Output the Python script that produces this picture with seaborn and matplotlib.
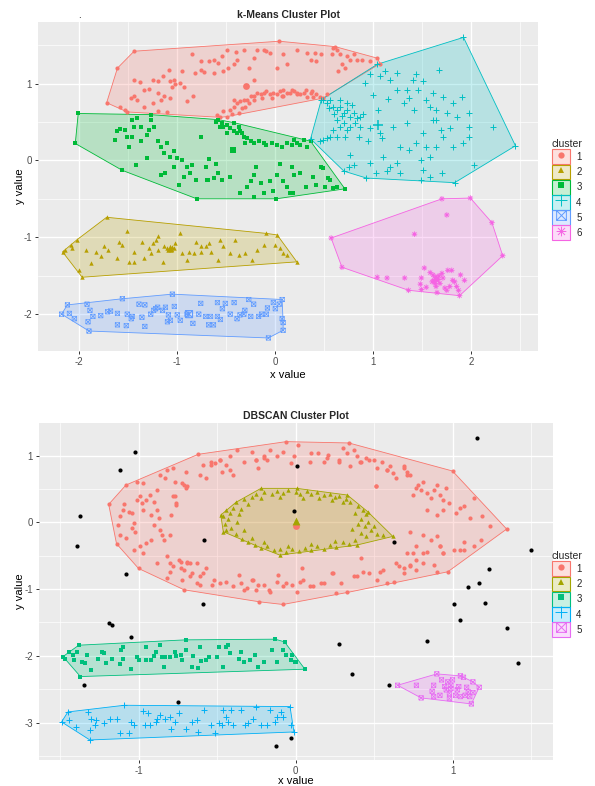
import numpy as np
import pandas as pd
import matplotlib
matplotlib.use("Agg")
import matplotlib.pyplot as plt
import seaborn as sns
from matplotlib.path import Path
from matplotlib.patches import Polygon, Patch
from matplotlib.lines import Line2D
from matplotlib.ticker import MultipleLocator

# ---------------- k-means panel data ----------------
KM_TITLE = "k-Means Cluster Plot"
KM_LABELS = ["1", "2", "3", "4", "5", "6"]
KM_COLORS = ["#F8766D", "#B79F00", "#00BA38", "#00BFC4", "#619CFF", "#F564E3"]
KM_XTICKS = [-2, -1, 0, 1, 2]
KM_YTICKS = [-2, -1, 0, 1]

KM1 = [(-1.72,0.75),(-1.61,1.20),(-1.44,1.42),(0.04,1.55),(0.61,1.48),(1.04,1.33),(1.07,1.26),
       (-0.56,0.56),(-1.51,0.63),
       (-1.44,1.04),(-1.38,1.02),(-1.25,1.05),(-1.20,1.03),(-1.15,1.10),(-1.08,1.18),(-1.07,1.03),
       (-1.03,1.05),(-0.95,1.16),(-0.97,1.01),(-0.85,1.39),(-0.76,1.17),(-0.73,1.15),(-0.68,1.29),
       (-0.63,1.31),(-0.58,1.27),(-0.54,1.36),(-0.49,1.44),(-0.48,1.20),(-0.39,1.31),(-0.40,1.41),
       (-0.32,1.44),(-0.27,1.20),(-0.22,1.33),(-0.19,1.44),(-0.12,1.44),(-0.09,1.42),(-0.05,1.40),
       (-0.22,1.05),(-0.42,1.25),(-0.63,1.14),(-1.34,0.92),(-1.41,0.79),(-1.29,0.93),(-1.20,0.88),
       (-1.25,0.75),(-1.14,0.84),(-1.07,0.81),(-1.05,0.96),(-1.02,0.99),(-1.17,0.79),(-1.475,0.81),
       (-1.58,0.70),(-1.53,0.66),(-1.44,0.84),(-1.34,0.70),(-1.20,0.64),(-1.10,0.63),(-0.90,0.77),
       (-0.84,0.84),(-0.93,0.96),(-0.53,1.16),(-0.82,1.14),(-0.76,1.29),(0.08,1.38),(0.12,1.25),
       (0.02,1.20),(0.08,0.84),(0.15,0.88),
       (0.32,1.40),(0.36,1.31),(0.41,1.40),(0.42,1.29),(0.47,1.38),(0.58,1.38),(0.59,1.46),(0.63,1.44),
       (0.66,1.38),(0.68,1.25),(0.73,1.36),(0.76,1.31),(0.80,1.38),(0.83,1.31),(0.88,1.31),(0.97,1.29),
       (0.64,1.16),(0.71,1.20),(0.22,1.44),
       (-0.59,0.595),(-0.53,0.64),(-0.46,0.66),(-0.42,0.70),(-0.39,0.75),(-0.36,0.77),(-0.32,0.79),
       (-0.29,0.79),(-0.25,0.84),(-0.22,0.84),(-0.19,0.88),(-0.15,0.86),(-0.12,0.88),(-0.09,0.90),
       (-0.05,0.86),(-0.02,0.88),(0.02,0.86),(0.05,0.90),(0.08,0.92),(0.12,0.88),(0.17,0.92),(0.22,0.86),
       (-0.31,0.70),(-0.37,0.62),(-0.44,0.60),(-0.49,0.57),(-0.22,0.79),(-0.14,0.81),(-0.03,0.81),
       (0.07,0.84),(-0.42,0.79),(-0.27,0.75),(-0.34,0.68),
       (0.19,0.90),(0.22,0.88),(0.25,0.86),(0.29,0.88),(0.32,0.83),(0.36,0.88),(0.39,0.83),(0.42,0.86),
       (0.46,0.83),(0.49,0.81),(0.31,0.92),(0.37,0.90),(0.53,0.86)]

KM2 = [(-2.17,-1.19),(-2.14,-1.16),(-2.08,-1.10),(-2.07,-1.14),(-2.02,-1.03),(-2.00,-1.43),(-1.97,-1.52),
       (-1.93,-1.16),(-1.88,-1.34),(-1.83,-1.19),(-1.78,-1.25),(-1.75,-1.12),(-1.72,-0.74),(-1.71,-1.16),
       (-1.61,-1.27),(-1.59,-1.06),(-1.56,-1.10),(-1.51,-0.92),(-1.49,-1.32),(-1.44,-1.19),(-1.36,-1.06),
       (-1.34,-1.27),(-1.29,-1.14),(-1.27,-1.21),(-1.25,-1.08),(-1.22,-1.03),(-1.20,-0.99),(-1.15,-1.32),
       (-1.14,-1.12),(-1.10,-1.14),(-1.09,-1.16),(-1.06,-1.16),(-1.03,-1.14),(-1.02,-1.08),(-0.97,-0.95),
       (-0.95,-1.21),(-0.90,-1.30),(-0.88,-1.19),(-0.83,-1.21),(-0.81,-1.06),(-0.76,-1.19),(-0.71,-1.12),
       (-0.68,-1.08),(-0.66,-1.19),(-0.58,-1.30),(-0.56,-1.03),(-0.53,-1.12),(-0.46,-1.21),(-0.41,-1.03),
       (-0.37,-1.23),(-0.31,-1.21),(-0.24,-1.30),(-0.19,-1.16),(-0.12,-1.10),(-0.09,-0.95),(0.00,-1.10),
       (0.05,-1.14),(0.08,-1.21),(0.12,-1.23),(0.02,-0.97),(0.22,-1.32),(-0.76,-1.12),(-1.20,-1.16),
       (-1.44,-1.32),(-1.07,-1.15),(-1.05,-1.13)]

KM3 = [(-2.01,0.61),(-2.04,0.22),(-1.56,-0.13),(-0.80,-0.50),(0.01,-0.50),(0.71,-0.37),(0.36,0.25),
       (-1.63,0.27),(-1.61,0.38),(-1.58,0.41),(-1.53,0.40),(-1.51,0.31),(-1.46,0.53),(-1.44,0.44),
       (-1.41,0.55),(-1.37,0.44),(-1.46,0.31),(-1.49,0.18),(-1.42,-0.06),(-1.37,0.25),(-1.31,0.33),
       (-1.29,0.40),(-1.27,0.53),(-1.24,0.44),(-1.20,0.25),(-1.17,0.18),(-1.10,0.23),(-1.07,0.05),
       (-1.03,0.12),(-1.00,0.03),(-0.95,0.01),(-0.90,-0.08),(-0.85,-0.06),(-1.31,0.03),(-1.17,-0.19),
       (-1.12,-0.17),(-0.98,-0.32),(-0.93,-0.21),(-0.87,-0.17),(-0.81,-0.25),(-0.76,0.31),(-0.68,0.02),
       (-0.70,-0.25),(-0.63,-0.23),(-0.58,-0.17),(-0.54,-0.25),(-0.46,-0.21),(-0.36,-0.43),(-0.29,-0.34),
       (-0.25,-0.27),(-0.22,-0.19),(-0.15,-0.30),(-0.12,-0.43),(-0.05,-0.27),(0.02,-0.19),(0.08,-0.27),
       (0.12,-0.34),(0.19,-0.19),(0.15,-0.43),(-0.71,-0.08),(-1.03,-0.08),(-1.14,0.10),
       (-0.36,-0.42),(-0.22,-0.48),(-0.02,-0.40),(0.18,-0.42),(-1.27,0.595),
       (-0.58,0.53),(-0.54,0.49),(-0.53,0.44),(-0.49,0.46),(-0.46,0.42),(-0.42,0.38),(-0.39,0.36),
       (-0.36,0.38),(-0.32,0.31),(-0.29,0.29),(-0.25,0.25),(-0.22,0.23),(-0.17,0.25),(-0.12,0.23),
       (-0.09,0.20),(-0.03,0.23),(0.02,0.20),(0.07,0.18),(0.12,0.23),(0.17,0.20),(0.22,0.23),
       (-0.42,0.49),(-0.37,0.44),(-0.34,0.36),(-0.56,0.44),(-0.31,0.23),(-0.49,0.36),(-0.60,0.50),
       (0.19,0.27),(0.25,0.20),(0.29,0.27),(0.32,0.18),(0.17,-0.08),(0.25,-0.17),(0.31,-0.34),
       (0.39,-0.21),(0.42,-0.32),(0.47,-0.08),(0.56,-0.25),(0.59,-0.36),(0.51,-0.34),(0.49,-0.10),
       (0.54,-0.23),(0.63,-0.35),(-0.69,-0.25),(-0.60,-0.05),(-0.20,-0.08),(0.05,-0.05)]

KM4 = [(1.92,1.60),(2.45,0.19),(1.83,-0.29),(0.93,-0.23),(0.70,-0.14),(0.36,0.28),(0.47,0.79),(1.04,1.25),
       (0.49,0.79),(0.53,0.75),(0.56,0.79),(0.59,0.70),(0.63,0.66),(0.66,0.70),(0.70,0.62),(0.73,0.66),
       (0.76,0.57),(0.80,0.62),(0.83,0.55),(0.86,0.57),(0.63,0.53),(0.66,0.44),(0.70,0.49),(0.73,0.40),
       (0.59,0.40),(0.56,0.31),(0.49,0.27),(0.46,0.25),(0.53,0.29),(0.63,0.31),(0.71,0.31),(0.76,0.44),
       (0.81,0.49),(0.86,0.44),(0.66,0.79),(0.73,0.75),(0.97,0.42),(1.07,0.36),(1.09,0.29),
       (0.92,1.01),(0.97,1.12),(1.07,1.10),(1.12,1.16),(1.17,1.05),(1.24,0.92),(1.24,1.14),(1.34,0.92),
       (1.36,0.81),(1.41,1.05),(1.44,1.12),(1.46,0.92),(1.51,1.03),(1.54,0.79),(1.58,0.70),(1.61,0.88),
       (1.64,0.66),(1.67,1.18),(1.71,0.83),(1.75,0.62),(1.81,0.75),(1.85,0.57),(1.90,0.83),(1.98,0.62),
       (1.98,0.44),(1.98,0.31),(1.92,0.22),(1.81,0.18),(1.78,0.42),(1.69,0.40),(1.61,0.53),(1.51,0.36),
       (1.44,0.22),(1.54,0.18),(1.58,0.05),(1.64,0.18),(1.71,0.31),(2.03,-0.06),(2.22,0.44),(1.27,0.18),
       (1.36,0.14),(1.34,0.49),(1.20,0.44),(1.10,0.05),(1.17,-0.08),(1.24,-0.04),(1.27,-0.17),(1.14,-0.14),
       (1.03,-0.17),(0.80,-0.06),(0.75,-0.08),(0.76,0.07),(0.97,-0.04),(1.49,0.01),(1.51,-0.12),
       (1.49,-0.25),(1.58,-0.21),(1.70,-0.17),(1.31,0.75),(1.42,0.66),(1.64,0.53),(0.60,0.60),(0.68,0.58),
       (0.55,0.68),(0.78,0.72),(0.90,0.60),(0.85,0.30),(0.95,0.25),(1.00,0.85),(1.15,0.80),(1.05,0.65)]

KM5 = [(-2.18,-2.00),(-2.12,-1.88),(-2.10,-1.99),(-2.05,-2.06),(-1.92,-1.87),(-1.91,-2.10),(-1.90,-2.22),
       (-1.89,-1.95),(-1.86,-2.03),(-1.78,-2.02),(-1.71,-1.97),(-1.68,-1.96),(-1.61,-1.99),(-1.61,-2.14),
       (-1.56,-1.80),(-1.52,-2.15),(-1.51,-2.00),(-1.47,-2.06),(-1.46,-2.03),(-1.39,-1.87),(-1.36,-2.04),
       (-1.33,-1.88),(-1.33,-2.16),(-1.27,-2.00),(-1.24,-1.95),(-1.22,-1.93),(-1.20,-1.91),(-1.15,-1.95),
       (-1.12,-1.91),(-1.10,-2.10),(-1.09,-2.01),(-1.07,-2.08),(-1.05,-1.74),(-1.03,-1.90),(-1.00,-2.01),
       (-0.97,-2.08),(-0.90,-2.00),(-0.84,-2.12),(-0.78,-2.00),(-0.76,-1.86),(-0.71,-2.03),(-0.68,-2.14),
       (-0.66,-2.03),(-0.63,-2.14),(-0.59,-2.03),(-0.59,-1.85),(-0.56,-2.07),(-0.54,-1.93),(-0.51,-1.86),
       (-0.46,-2.00),(-0.42,-1.85),(-0.39,-2.06),(-0.36,-2.01),(-0.32,-2.00),(-0.31,-1.95),(-0.27,-1.81),
       (-0.25,-2.03),(-0.22,-1.87),(-0.17,-2.03),(-0.14,-2.00),(-0.09,-2.00),(-0.08,-1.92),(-0.07,-2.31),
       (-0.02,-1.85),(0.00,-1.93),(0.04,-1.87),(0.07,-1.81),(0.07,-2.06),(0.08,-2.11),(0.08,-2.21)]

KM6 = [(1.70,-0.50),(1.99,-0.49),(2.21,-0.81),(2.32,-1.24),(1.75,-0.71),(1.42,-0.96),(0.57,-1.01),
       (0.68,-1.39),(1.04,-1.52),(1.14,-1.53),(1.32,-1.53),(1.36,-1.69),(1.49,-1.53),(1.48,-1.61),
       (1.49,-1.68),(1.52,-1.40),(1.54,-1.65),(1.58,-1.46),(1.61,-1.49),(1.62,-1.56),(1.64,-1.52),
       (1.66,-1.55),(1.64,-1.64),(1.65,-1.72),(1.68,-1.60),(1.71,-1.53),(1.73,-1.66),(1.76,-1.43),
       (1.80,-1.43),(1.78,-1.64),(1.81,-1.56),(1.83,-1.58),(1.85,-1.64),(1.87,-1.69),(1.88,-1.76),
       (1.89,-1.49),(1.93,-1.56),(1.75,-1.69),(1.70,-1.47),(1.60,-1.58),(1.67,-1.50),(1.63,-1.60)]

KM_CENTERS = [(-0.30,0.97),(-1.07,-1.14),(-0.43,0.13),(1.05,0.46),(-0.88,-2.00),(1.64,-1.55)]

# ---------------- DBSCAN panel data ----------------
DB_TITLE = "DBSCAN Cluster Plot"
DB_LABELS = ["1", "2", "3", "4", "5"]
DB_COLORS = ["#F8766D", "#A3A500", "#00BF7D", "#00B0F6", "#E76BF3"]
DB_XTICKS = [-1, 0, 1]
DB_YTICKS = [-3, -2, -1, 0, 1]

DB1 = [(-1.19,0.27),(-1.01,0.61),(-0.62,1.02),(-0.06,1.21),(0.34,1.19),(1.00,0.77),(1.345,-0.10),
       (0.97,-0.74),(-0.08,-1.23),(-0.71,-1.01),(-1.00,-0.69),(-1.14,-0.32),
       (-1.13,-0.04),(-1.12,-0.19),(-1.10,0.19),(-1.09,0.28),(-1.06,0.16),(-1.04,0.14),(-1.03,-0.01),
       (-1.02,-0.14),(-1.01,0.34),(-0.99,0.39),(-0.98,0.29),(-0.97,0.19),(-0.95,0.34),(-0.93,0.41),
       (-0.92,0.11),(-0.90,-0.04),(-0.90,0.31),(-0.88,0.19),(-0.87,0.06),(-0.86,-0.11),(-0.85,-0.19),
       (-0.84,-0.26),(-0.92,-0.26),(-0.95,-0.31),(-0.99,-0.36),(-0.97,-0.46),(-1.03,-0.41),(-1.08,-0.24),
       (-1.04,-0.09),(-1.12,0.09),
       (-1.08,0.56),(-0.97,0.59),(-0.88,0.49),(-0.86,0.71),(-0.83,0.66),(-0.82,0.79),(-0.78,0.81),
       (-0.77,0.61),(-0.72,0.59),(-0.70,0.76),(-0.69,0.54),(-0.78,0.39),(-0.79,0.11),(-0.76,0.26),
       (-0.61,0.71),(-0.59,0.86),(-0.57,0.66),(-0.54,0.91),(-0.51,0.89),(-0.48,0.94),(-0.47,0.76),
       (-0.44,0.86),(-0.42,0.99),(-0.40,0.71),(-0.37,1.09),(-0.33,0.91),(-0.28,1.06),(-0.25,0.94),
       (-0.24,0.81),(-0.20,0.99),(-0.18,0.94),(-0.16,1.09),(-0.12,0.99),(-0.08,1.06),(-0.03,0.89),
       (-0.01,0.99),
       (-0.82,-0.51),(-0.80,-0.61),(-0.78,-0.66),(-0.74,-0.56),(-0.71,-0.72),(-0.69,-0.59),(-0.66,-0.76),
       (-0.63,-0.61),(-0.61,-0.81),(-0.57,-0.69),(-0.52,-0.86),(-0.48,-0.91),(-0.44,-0.89),(-0.40,-0.96),
       (-0.35,-0.91),(-0.31,-0.99),(-0.27,-0.86),(-0.25,-1.01),(-0.20,-0.94),(-0.16,-1.04),(-0.12,-0.89),
       (-0.08,-0.96),(-0.02,-0.94),(0.01,-1.04),(-0.72,-0.86),(-0.61,-0.94),
       (-0.88,-0.61),(-0.82,-0.84),(-0.80,-0.74),(-0.73,-0.69),(-0.69,-0.61),(-0.67,-0.81),(-0.63,-0.91),
       (-0.59,-0.76),(-0.53,-0.94),(-0.36,-0.79),(-0.33,-1.01),(-0.28,-0.86),(-0.24,-0.94),(-0.23,-1.19),
       (-0.17,-1.01),(-0.11,-0.79),(-0.06,-0.91),(0.04,-0.69),(0.05,-0.86),(0.11,-0.96),(0.16,-0.91),
       (0.23,-0.76),(0.26,-1.06),(0.29,-0.91),(0.33,-1.05),(0.37,-0.81),(0.42,-0.54),(0.43,-0.74),
       (0.52,-0.86),(0.54,-0.74),(0.58,-0.91),(0.63,-0.89),(0.66,-0.66),(0.69,-0.76),(0.73,-0.64),
       (0.77,-0.71),(0.81,-0.61),(0.88,-0.64),(0.90,-0.74),(0.94,-0.46),(0.75,-0.46),(0.84,-0.44),
       (0.92,-0.36),(1.07,-0.41),(1.14,-0.36),
       (0.018,1.16),(0.10,1.04),(0.145,1.04),(0.18,0.91),(0.21,1.01),(0.28,0.94),(0.30,1.11),(0.33,1.04),
       (0.37,1.09),(0.39,0.99),(0.42,0.91),(0.45,0.96),(0.50,0.94),(0.51,0.55),(0.55,0.91),(0.58,0.79),
       (0.60,0.84),(0.62,0.74),(0.64,0.66),(0.69,0.84),(0.71,0.76),(0.73,0.71),(0.78,0.56),(0.80,0.49),
       (0.81,0.61),(0.84,0.44),(0.86,0.36),(0.88,0.49),(0.90,0.56),(0.92,0.41),(0.94,0.34),(0.96,0.51),
       (0.98,0.29),(1.02,0.14),(1.05,0.21),(1.07,0.24),(1.11,0.06),(1.14,0.36),(1.19,0.09),(0.84,0.19),
       (0.90,0.11),(0.94,0.19),
       (0.73,-0.14),(0.81,-0.19),(0.86,-0.26),(0.92,-0.36),(0.94,-0.46),(1.01,-0.41),(1.05,-0.41),
       (1.07,-0.29),(1.18,-0.26),(1.24,-0.06),(0.90,-0.21),(0.77,-0.56),(0.64,-0.61),(0.69,-0.69),
       (0.73,-0.66),(0.56,-0.71),(0.47,-0.76),(0.39,-0.81),(0.24,-0.76),(0.18,-0.91),(0.09,-0.96),
       (0.03,-0.89),(0.77,-0.36),(0.81,-0.46),(0.71,-0.46),
       (-0.54,0.86),(-0.48,0.94),(-0.42,0.79),(-0.25,0.94),(-0.20,0.96),(0.09,0.91),(0.20,0.96),
       (0.28,0.91),(0.35,0.84),(0.41,0.91),(0.47,0.94),(0.52,0.81),(0.58,0.79),(0.69,0.81),(0.71,0.71),
       (0.51,0.54),(0.75,0.41),(0.77,0.51),(-0.80,-0.19),(-0.77,0.39),(-0.76,0.29),(-0.71,0.56),
       (-0.70,0.51),(-0.73,-0.59),(-0.67,-0.61)]

DB2 = [(-0.476,0.11),(-0.22,0.51),(0.008,0.51),(0.33,0.41),(0.46,0.16),(0.62,-0.21),(0.39,-0.34),
       (-0.10,-0.49),(-0.46,-0.14),
       (-0.38,0.30),(-0.33,0.35),(-0.28,0.38),(-0.25,0.42),(-0.20,0.45),(-0.15,0.43),(-0.12,0.47),
       (-0.08,0.44),(-0.05,0.48),(0.00,0.46),(0.03,0.42),(0.07,0.47),(0.10,0.43),(0.14,0.45),(0.18,0.41),
       (0.22,0.43),(0.25,0.38),(0.28,0.40),(0.32,0.35),(0.35,0.31),(0.30,0.30),(-0.22,0.36),(-0.10,0.38),
       (0.05,0.37),(0.15,0.36),(0.23,0.33),(-0.30,0.28),
       (-0.44,0.18),(-0.46,0.10),(-0.43,0.05),(-0.45,-0.02),(-0.41,-0.08),(-0.44,-0.12),(-0.38,-0.18),
       (-0.40,0.22),(-0.36,0.12),(-0.37,0.00),(-0.33,-0.12),(-0.35,0.20),(-0.42,0.14),
       (-0.34,-0.25),(-0.30,-0.30),(-0.26,-0.34),(-0.22,-0.38),(-0.18,-0.36),(-0.14,-0.42),(-0.10,-0.40),
       (-0.06,-0.44),(-0.02,-0.40),(0.02,-0.43),(0.06,-0.38),(0.10,-0.42),(0.14,-0.36),(0.18,-0.40),
       (0.22,-0.34),(0.26,-0.37),(0.30,-0.30),(0.34,-0.32),(0.38,-0.26),(-0.20,-0.30),(-0.05,-0.35),
       (0.10,-0.33),(0.25,-0.28),(-0.28,-0.24),
       (0.40,0.24),(0.43,0.18),(0.45,0.12),(0.42,0.05),(0.46,0.00),(0.44,-0.06),(0.48,-0.12),(0.42,-0.16),
       (0.45,-0.20),(0.52,-0.17),(0.56,-0.19),(0.38,0.14),(0.36,-0.10),(0.40,-0.02),(0.50,-0.05)]

DB3 = [(-1.48,-2.01),(-1.47,-2.04),(-1.44,-1.94),(-1.42,-1.99),(-1.41,-2.06),(-1.39,-1.94),(-1.38,-1.84),
       (-1.37,-2.31),(-1.36,-2.09),(-1.34,-2.11),(-1.33,-1.99),(-1.30,-2.21),(-1.26,-2.05),(-1.23,-1.94),
       (-1.22,-1.96),(-1.21,-2.11),(-1.17,-2.04),(-1.12,-2.12),(-1.11,-1.91),(-1.10,-2.04),(-1.10,-1.86),
       (-1.05,-2.19),(-1.01,-2.01),(-1.00,-2.06),(-0.95,-1.87),(-0.95,-2.06),(-0.92,-2.06),(-0.90,-2.00),
       (-0.89,-1.94),(-0.86,-1.83),(-0.85,-2.01),(-0.84,-2.17),(-0.83,-2.02),(-0.80,-2.01),(-0.77,-1.94),
       (-0.76,-2.00),(-0.73,-1.99),(-0.72,-2.06),(-0.70,-1.76),(-0.70,-1.91),(-0.66,-2.17),(-0.65,-2.00),
       (-0.62,-2.18),(-0.61,-1.86),(-0.60,-2.07),(-0.57,-2.06),(-0.55,-2.01),(-0.50,-2.01),(-0.49,-1.87),
       (-0.46,-2.16),(-0.44,-1.86),(-0.43,-1.84),(-0.42,-1.96),(-0.36,-2.04),(-0.35,-1.94),(-0.33,-2.09),
       (-0.29,-2.06),(-0.26,-1.99),(-0.24,-2.16),(-0.20,-2.09),(-0.15,-1.91),(-0.13,-1.75),(-0.12,-2.09),
       (-0.08,-1.91),(-0.07,-1.79),(-0.06,-1.99),(-0.03,-2.06),(0.004,-2.09),(-0.025,-1.99),(-0.003,-2.09),
       (0.06,-2.20)]

DB4 = [(-1.49,-2.99),(-1.45,-2.84),(-1.44,-2.96),(-1.40,-3.06),(-1.32,-2.84),(-1.31,-3.26),(-1.31,-3.11),
       (-1.30,-2.94),(-1.28,-3.04),(-1.27,-2.96),(-1.22,-3.01),(-1.18,-2.94),(-1.14,-2.94),(-1.12,-3.16),
       (-1.09,-2.74),(-1.06,-3.16),(-1.05,-2.99),(-1.03,-3.04),(-0.97,-2.82),(-0.96,-3.04),(-0.94,-2.86),
       (-0.93,-3.04),(-0.89,-2.99),(-0.88,-2.94),(-0.86,-2.89),(-0.83,-2.94),(-0.80,-2.91),(-0.79,-3.09),
       (-0.77,-2.99),(-0.74,-2.86),(-0.70,-3.09),(-0.66,-2.99),(-0.63,-2.96),(-0.62,-3.14),(-0.58,-2.81),
       (-0.54,-3.04),(-0.51,-3.16),(-0.49,-3.01),(-0.47,-3.04),(-0.46,-2.81),(-0.44,-2.91),(-0.43,-2.99),
       (-0.41,-2.81),(-0.40,-3.04),(-0.35,-2.81),(-0.32,-3.04),(-0.30,-3.01),(-0.27,-2.94),(-0.25,-2.76),
       (-0.22,-3.04),(-0.18,-3.04),(-0.16,-2.81),(-0.13,-2.99),(-0.12,-2.91),(-0.09,-2.84),(-0.08,-2.91),
       (-0.035,-2.76),(-0.03,-3.04),(-0.01,-3.14)]

DB5 = [(0.65,-2.44),(0.77,-2.44),(0.80,-2.63),(0.87,-2.53),(0.88,-2.44),(0.88,-2.61),(0.90,-2.27),
       (0.92,-2.59),(0.93,-2.36),(0.95,-2.46),(0.96,-2.51),(0.97,-2.39),(0.98,-2.56),(0.98,-2.64),
       (0.99,-2.49),(0.99,-2.44),(1.00,-2.36),(1.02,-2.59),(1.03,-2.51),(1.04,-2.46),(1.05,-2.30),
       (1.05,-2.61),(1.07,-2.32),(1.08,-2.59),(1.09,-2.47),(1.10,-2.54),(1.11,-2.61),(1.12,-2.72),
       (1.13,-2.55),(1.13,-2.39),(1.17,-2.47)]

DB_NOISE = [(-1.02,1.05),(-1.12,0.78),(-1.37,0.09),(-1.39,-0.36),(-1.08,-0.77),(-0.58,-0.26),(0.007,0.84),
            (-0.01,0.17),(1.154,1.26),(0.63,-0.30),(1.50,-0.41),(1.23,-0.70),(1.17,-0.91),(1.10,-0.97),
            (-0.59,-1.23),(-1.19,-1.51),(-1.17,-1.53),(-1.05,-1.72),(-1.35,-2.43),(-0.75,-2.69),
            (-0.124,-3.35),(-0.03,-3.23),(1.01,-1.23),(1.205,-1.21),(1.05,-1.46),(1.35,-1.58),(0.84,-1.77),
            (0.28,-1.82),(1.42,-2.10),(0.36,-2.27),(0.595,-2.43)]

DB_CENTERS = [(0.0,-0.05),(0.0,0.02)]

# ---------------- styling ----------------
sns.set_theme(style="darkgrid")
plt.rcParams['font.family'] = ['Liberation Sans', 'DejaVu Sans']
plt.rcParams['axes.unicode_minus'] = False

ASTER = Path([(-1,0),(1,0),(0,-1),(0,1),(-0.72,-0.72),(0.72,0.72),(-0.72,0.72),(0.72,-0.72)],
             [Path.MOVETO,Path.LINETO]*4)
SQX = Path([(-1,-1),(1,-1),(1,1),(-1,1),(-1,-1),(-1,-1),(1,1),(-1,1),(1,-1)],
           [Path.MOVETO,Path.LINETO,Path.LINETO,Path.LINETO,Path.LINETO,
            Path.MOVETO,Path.LINETO,Path.MOVETO,Path.LINETO])

# marker spec: (marker, size, big size, kind, linewidth)
SPEC_CIRCLE = ("o", 9, 24, "fill", 0)
SPEC_TRI = ("^", 10, 28, "fill", 0)
SPEC_SQ = ("s", 8, 24, "fill", 0)
SPEC_PLUS = ("+", 22, 60, "line", 0.7)
SPEC_SQX = (SQX, 10, 26, "open", 0.5)
SPEC_AST = (ASTER, 16, 45, "open", 0.6)


def hull(pts):
    p = sorted(set(pts))
    if len(p) < 3:
        return p
    def cross(o, a, b):
        return (a[0]-o[0])*(b[1]-o[1]) - (a[1]-o[1])*(b[0]-o[0])
    lower, upper = [], []
    for q in p:
        while len(lower) >= 2 and cross(lower[-2], lower[-1], q) <= 0:
            lower.pop()
        lower.append(q)
    for q in reversed(p):
        while len(upper) >= 2 and cross(upper[-2], upper[-1], q) <= 0:
            upper.pop()
        upper.append(q)
    return lower[:-1] + upper[:-1]


def draw_cluster(ax, pts, color, spec, center=None):
    h = hull(pts)
    ax.add_patch(Polygon(h, closed=True, facecolor=color, alpha=0.22, edgecolor='none', zorder=1))
    ax.add_patch(Polygon(h, closed=True, facecolor='none', edgecolor=color, lw=0.6, zorder=1.5))
    df = pd.DataFrame(pts, columns=["x", "y"])
    marker, s, sbig, kind, lw = spec
    kw = dict(marker=marker, color=color, legend=False, zorder=3, ax=ax)
    if kind == "fill":
        kw.update(edgecolor=color, linewidth=0)
    elif kind == "line":
        kw.update(linewidth=lw)
    else:
        kw.update(edgecolor=color, facecolors='none', linewidth=lw)
    sns.scatterplot(data=df, x="x", y="y", s=s, **kw)
    if center is not None:
        dc = pd.DataFrame([center], columns=["x", "y"])
        kw2 = dict(kw)
        if kind != "fill":
            kw2['linewidth'] = lw * 1.6
        sns.scatterplot(data=dc, x="x", y="y", s=sbig, **kw2)


def style_axes(ax, xlim, ylim, xt, yt, title, xlabelpad=2):
    ax.set_facecolor('#EBEBEB')
    ax.set_xlim(xlim)
    ax.set_ylim(ylim)
    ax.set_xticks(xt)
    ax.set_yticks(yt)
    ax.set_xticklabels([str(v) for v in xt])
    ax.set_yticklabels([str(v) for v in yt])
    ax.xaxis.set_minor_locator(MultipleLocator(0.5))
    ax.yaxis.set_minor_locator(MultipleLocator(0.5))
    ax.grid(which='major', color='white', lw=1.0)
    ax.grid(which='minor', color='white', lw=0.5)
    ax.set_axisbelow(True)
    for sp in ax.spines.values():
        sp.set_visible(False)
    ax.tick_params(which='major', length=2.5, width=0.7, color='#333333', labelsize=7,
                   labelcolor='#4D4D4D', pad=2, bottom=True, left=True)
    ax.tick_params(which='minor', length=0)
    ax.set_xlabel("x value", fontsize=8, color='black', labelpad=xlabelpad)
    ax.set_ylabel("y value", fontsize=8, color='black', labelpad=-1)
    ax.set_title(title, fontsize=7.5, fontweight='bold', pad=3)


def make_legend(fig, labels, colors, specs, anchor):
    handles = []
    for c, sp in zip(colors, specs):
        patch = Patch(facecolor=matplotlib.colors.to_rgba(c, 0.22), edgecolor=c, lw=0.8)
        marker, s, sbig, kind, lw = sp
        ms = {"o": 4.5, "^": 5, "s": 4.5, "+": 8}.get(marker if isinstance(marker, str) else "", 7)
        if kind == "fill":
            ln = Line2D([], [], marker=marker, color=c, linestyle='None', markersize=ms, markeredgewidth=0)
        elif kind == "line":
            ln = Line2D([], [], marker=marker, color=c, linestyle='None', markersize=ms, markeredgewidth=0.7)
        else:
            ln = Line2D([], [], marker=marker, color=c, linestyle='None', markersize=ms,
                        markerfacecolor='none', markeredgewidth=0.7)
        handles.append((patch, ln))
    fig.legend(handles, labels, title="cluster", loc='upper left', bbox_to_anchor=anchor,
               frameon=False, fontsize=7, title_fontsize=7.5, handlelength=1.9, handleheight=1.95,
               handletextpad=0.6, labelspacing=0.05, borderpad=0, borderaxespad=0, alignment='left')


fig = plt.figure(figsize=(5.95, 7.86), dpi=100)
ax1 = fig.add_axes([0.0639, 0.5534, 0.8403, 0.4186])
ax2 = fig.add_axes([0.0655, 0.0331, 0.8639, 0.4288])

KM = [KM1, KM2, KM3, KM4, KM5, KM6]
KM_SPECS = [SPEC_CIRCLE, SPEC_TRI, SPEC_SQ, SPEC_PLUS, SPEC_SQX, SPEC_AST]
for pts, col, sp, cen in zip(KM, KM_COLORS, KM_SPECS, KM_CENTERS):
    draw_cluster(ax1, pts, col, sp, cen)
style_axes(ax1, (-2.42, 2.68), (-2.48, 1.80), KM_XTICKS, KM_YTICKS, KM_TITLE, xlabelpad=2)

DB = [DB1, DB2, DB3, DB4, DB5]
DB_SPECS = [SPEC_CIRCLE, SPEC_TRI, SPEC_SQ, SPEC_PLUS, SPEC_SQX]
for pts, col, sp in zip(DB, DB_COLORS, DB_SPECS):
    draw_cluster(ax2, pts, col, sp, None)
nd = pd.DataFrame(DB_NOISE, columns=["x", "y"])
sns.scatterplot(data=nd, x="x", y="y", ax=ax2, color='black', s=9, linewidth=0, legend=False, zorder=3)
cd1 = pd.DataFrame([DB_CENTERS[0]], columns=["x", "y"])
cd2 = pd.DataFrame([DB_CENTERS[1]], columns=["x", "y"])
sns.scatterplot(data=cd1, x="x", y="y", ax=ax2, color=DB_COLORS[0], marker="o", s=24, linewidth=0, legend=False, zorder=4)
sns.scatterplot(data=cd2, x="x", y="y", ax=ax2, color=DB_COLORS[1], marker="^", s=32, linewidth=0, legend=False, zorder=4)
style_axes(ax2, (-1.634, 1.64), (-3.56, 1.49), DB_XTICKS, DB_YTICKS, DB_TITLE, xlabelpad=0)

make_legend(fig, KM_LABELS, KM_COLORS, KM_SPECS, (552/595, 1 - 139/786))
make_legend(fig, DB_LABELS, DB_COLORS, DB_SPECS, (552/595, 1 - 551/786))

fig.text(79/595, 1 - 18/786, ".", fontsize=7, ha='center', va='baseline', color='black')

fig.savefig("out.png", dpi=100)
